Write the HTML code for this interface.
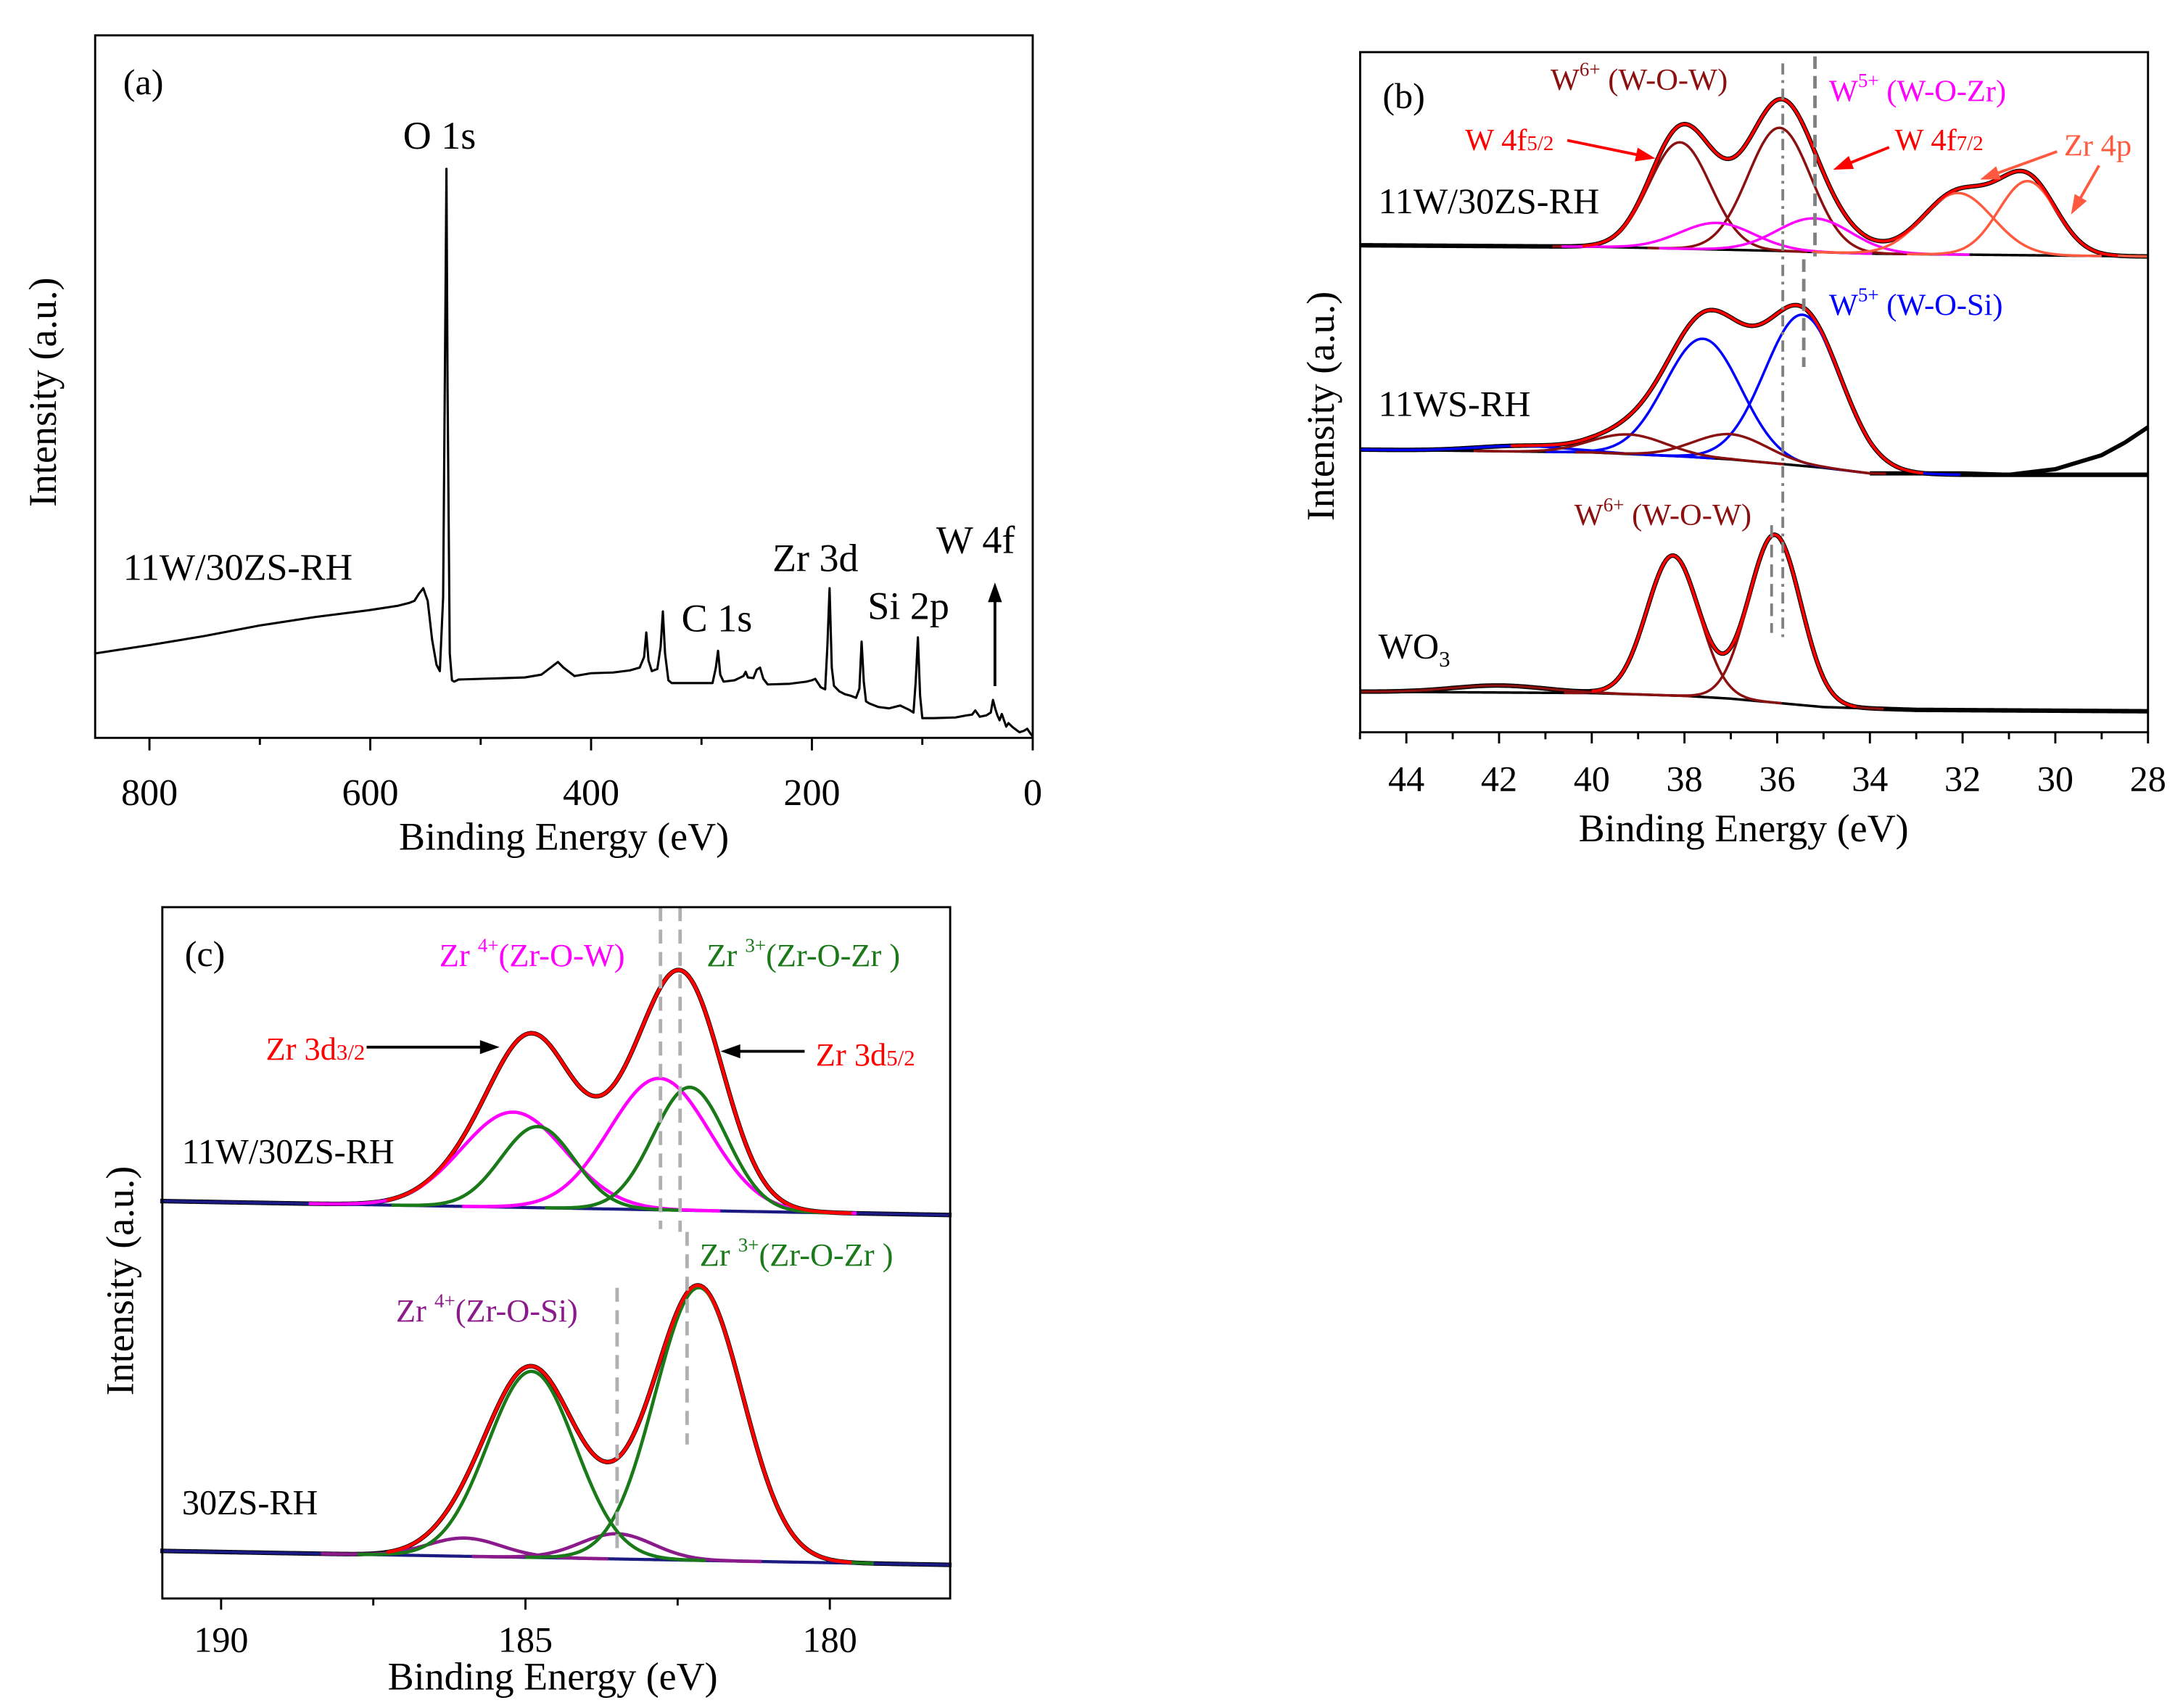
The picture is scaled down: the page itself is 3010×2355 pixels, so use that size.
<!DOCTYPE html>
<html><head><meta charset="utf-8">
<style>
html,body{margin:0;padding:0;background:#fff;}
svg{display:block;font-family:"Liberation Serif",serif;}
</style></head>
<body>
<svg id="fig" width="3010" height="2355" viewBox="0 0 1560 1220" xmlns="http://www.w3.org/2000/svg"></svg>
<script>
// ---------- Panel (a) survey data: [binding energy eV, intensity a.u.] ----------
const surveyE = [850,800,750,700,650,600,575,565,560,556,552,548,544,540,537,534,532,531,530,528,526,524,520,500,480,460,445,435,430,425,415,400,380,365,356,352,350,348,345,340,337,335,333,330,327,320,300,290,287,285,283,280,270,262,260,258,253,250,247,244,240,220,205,200,197,192,188,186,184,182,180,175,170,165,160,157,155,153,151,148,140,130,120,112,108,106,104,102,100,90,70,60,55,52,48,42,38,36,34,32,30,28,26,24,22,18,12,8,5,2,0];
const surveyI = [12,13.2,14.5,16,17.2,18.2,18.8,19.2,19.5,20.5,21.3,19.5,14,10.4,9.5,20,60,81,50,12,8.2,8,8.3,8.4,8.5,8.6,9,10.2,10.8,10,8.8,9.2,9.3,9.6,10,11.5,15,11,9.5,9.8,13,18,12,8.2,7.8,7.8,7.8,7.8,10,12.4,9,8,8.2,8.8,9.4,8.6,8.5,9.7,10,8.4,7.6,7.7,8,8.2,8.4,7.2,6.9,13,21.3,10,7.4,6.6,6.2,6,5.7,7,13.7,8,5.2,4.9,4.4,4.2,4.6,4,3.6,8,14.3,6,2.8,2.8,2.9,3.2,3.3,3.9,3,3.2,3.6,5.4,4.2,3.2,2.5,3.4,2.5,1.6,2.1,1.5,0.8,1,1.3,0.6,0.2];
const surveyTicks = [800,600,400,200,0];
const surveyMinor = [700,500,300,100];

// ---------- Panel (b) W 4f fits: peak centres (eV), heights, widths (sigma eV) ----------
const b1W6c=[38.1,35.95], b1W6h=[76,88], b1W6s=[0.66,0.68];
const b1W5c=[37.3,35.2],  b1W5h=[19,24],  b1W5s=[0.8,0.8];
const b1Zrc=[32.1,30.6],  b1Zrh=[44,53],  b1Zrs=[0.75,0.62];
const b1BgE=[45,40,36,34,28], b1BgY=[175,176,179,181,183];
const b2Bc=[41.5,37.6,35.45], b2Bh=[4,85,108], b2Bs=[1.0,0.82,0.82];
const b2Rc=[39.2,37.0], b2Rh=[14,18], b2Rs=[0.8,0.8];
const b2BgE=[45,40,38,37,35,34,32,28], b2BgY=[321,323,326,328,334,338,339,339];
const b2TailE=[34,32,31,30,29,28.5,28], b2TailY=[338,338,339,335,325,316,305];
const b3Rc=[42,38.25,36.05], b3Rh=[5,100,120], b3Rs=[1.0,0.56,0.56];
const b3BgE=[45,40,38,37,35,33,28], b3BgY=[494,495,497,499,505,507,508];
const bTicks=[44,42,40,38,36,34,32,30,28];

// ---------- Panel (c) Zr 3d fits ----------
const c1Mc=[185.2,182.8], c1Mh=[68,94], c1Ms=[0.85,0.82];
const c1Gc=[184.8,182.3], c1Gh=[58,88], c1Gs=[0.6,0.6];
const c1BgE=[191,178], c1BgY=[858,868];
const c2Gc=[184.9,182.15], c2Gh=[133,195], c2Gs=[0.72,0.72];
const c2Pc=[186.0,183.5], c2Ph=[13,18], c2Ps=[0.6,0.6];
const c2BgE=[191,178], c2BgY=[1108,1118];
const cTicks=[190,185,180];
const cMinor=[187.5,182.5];

const NS="http://www.w3.org/2000/svg";
const svg=document.getElementById('fig');
function mk(tag,attrs,parent){const e=document.createElementNS(NS,tag);for(const k in attrs)e.setAttribute(k,attrs[k]);(parent||svg).appendChild(e);return e;}
function txt(x,y,s,size,fill,anchor,name,parent){const t=mk('text',{x:x,y:y,'font-size':size,fill:fill||'#000','text-anchor':anchor||'start'},parent);t.innerHTML=s;


return t;}
function interp(xs,ys,v){
  if(v>=xs[0])return ys[0]; for(let i=1;i<xs.length;i++){if(v>=xs[i]){const t=(v-xs[i])/(xs[i-1]-xs[i]);return ys[i]+t*(ys[i-1]-ys[i]);}} return ys[ys.length-1];}
function gauss(c,h,s,v){return h*Math.exp(-((v-c)*(v-c))/(2*s*s));}
function pathFrom(pts){return pts.map((p,i)=>(i?'L':'M')+p[0].toFixed(2)+' '+p[1].toFixed(2)).join('');}
function line(d,stroke,w,name,dash,parent){const p=mk('path',{d:d,fill:'none',stroke:stroke,'stroke-width':w,'stroke-linejoin':'round'},parent);if(dash)p.setAttribute('stroke-dasharray',dash);


return p;}
function arrow(x1,y1,x2,y2,color,name,parent){
  const g=mk('g',{},parent);
  
  
  const a=Math.atan2(y2-y1,x2-x1),L=14,W=5;
  mk('line',{x1:x1,y1:y1,x2:x2-Math.cos(a)*L*0.8,y2:y2-Math.sin(a)*L*0.8,stroke:color,'stroke-width':2},g);
  const p1=[x2-Math.cos(a)*L+Math.sin(a)*W,y2-Math.sin(a)*L-Math.cos(a)*W],p2=[x2-Math.cos(a)*L-Math.sin(a)*W,y2-Math.sin(a)*L+Math.cos(a)*W];
  mk('polygon',{points:`${x2},${y2} ${p1[0]},${p1[1]} ${p2[0]},${p2[1]}`,fill:color},g);
}
function axesBox(x0,y0,x1,y1,name){const r=mk('rect',{x:x0,y:y0,width:x1-x0,height:y1-y0,fill:'none',stroke:'#000','stroke-width':1.5});

}

// ================= Panel (a) =================
const A={x0:68,x1:738,y0:25,y1:527};
const ax=v=>738-v*0.789; const ay=v=>527-v*5.02;
const gA=mk('g',{});  
axesBox(A.x0,A.y0,A.x1,A.y1,'panel-a-frame');
surveyTicks.forEach(t=>{mk('line',{x1:ax(t),y1:A.y1,x2:ax(t),y2:A.y1+9,stroke:'#000','stroke-width':1.5},gA);txt(ax(t),575,t,27,'#000','middle','x-tick-label-a',gA);});
surveyMinor.forEach(t=>{mk('line',{x1:ax(t),y1:A.y1,x2:ax(t),y2:A.y1+5,stroke:'#000','stroke-width':1.5},gA);});
line(pathFrom(surveyE.map((e,i)=>[ax(e),ay(surveyI[i])])),'#000',1.6,'survey-spectrum',null,gA);
txt(403,607,'Binding Energy (eV)',28,'#000','middle','x-axis-title-a',gA);
const ya=txt(0,0,'Intensity (a.u.)',28,'#000','middle','y-axis-title-a',gA); ya.setAttribute('transform','translate(40,280) rotate(-90)');
txt(88,67,'(a)',26,'#000','start','panel-label-a',gA);
txt(288,106,'O 1s',28,'#000','start','peak-label-o1s',gA);
txt(88,414,'11W/30ZS-RH',27,'#000','start','sample-label-a',gA);
txt(552,408,'Zr 3d',28,'#000','start','peak-label-zr3d',gA);
txt(487,451,'C 1s',28,'#000','start','peak-label-c1s',gA);
txt(620,442,'Si 2p',28,'#000','start','peak-label-si2p',gA);
txt(669,395,'W 4f',28,'#000','start','peak-label-w4f',gA);
arrow(711,490,711,416,'#000','w4f-arrow',gA);

// ================= Panel (b) =================
const B={x0:972,x1:1535,y0:37,y1:523};
const bx=v=>1535-(v-28)*33.125;
const gB=mk('g',{});  
axesBox(B.x0,B.y0,B.x1,B.y1,'panel-b-frame');
bTicks.forEach(t=>{mk('line',{x1:bx(t),y1:B.y1,x2:bx(t),y2:B.y1+8,stroke:'#000','stroke-width':1.5},gB);mk('line',{x1:bx(t+1),y1:B.y1,x2:bx(t+1),y2:B.y1+5,stroke:'#000','stroke-width':1.5},gB);txt(bx(t),565,t,26,'#000','middle','x-tick-label-b',gB);});
const eRangeB=[]; for(let e=45;e>=28;e-=0.05)eRangeB.push(+e.toFixed(2));
function comp(cs,hs,ss,bgE,bgY,i,e){return interp(bgE,bgY,e)-gauss(cs[i],hs[i],ss[i],e);}
function drawFit(sets,bgE,bgY,xf,eR,parent,lbl,dataTail){
  const env=eR.map(e=>{let y=interp(bgE,bgY,e);sets.forEach(s=>s.c.forEach((c,i)=>{y-=gauss(c,s.h[i],s.s[i],e);}));return [xf(e),y];});
  line(pathFrom(env),'#000',3.2,lbl+'-raw-data',null,parent);
  if(dataTail) line(pathFrom(dataTail[0].map((e,i)=>[xf(e),dataTail[1][i]])),'#000',3,lbl+'-raw-data-tail',null,parent);
  line(pathFrom(eR.map(e=>[xf(e),interp(bgE,bgY,e)])),'#000',1.8,lbl+'-background',null,parent);
  sets.forEach(s=>s.c.forEach((c,i)=>{
    const pts=eR.filter(e=>Math.abs(e-c)<4.2*s.s[i]).map(e=>[xf(e),comp(s.c,s.h,s.s,bgE,bgY,i,e)]);
    line(pathFrom(pts),s.col,1.8,lbl+'-component-'+s.n+'-'+i,null,parent);
  }));
  const envPts=env.filter((p,k)=>{const e=eR[k];return sets.some(s=>s.c.some((c,i)=>s.h[i]>8&&Math.abs(e-c)<3.2*s.s[i]));});
  line(pathFrom(envPts),'#ff0000',2,lbl+'-envelope',null,parent);
}
drawFit([{c:b1W6c,h:b1W6h,s:b1W6s,col:'#8b1010',n:'w6'},{c:b1W5c,h:b1W5h,s:b1W5s,col:'#ff00ff',n:'w5'},{c:b1Zrc,h:b1Zrh,s:b1Zrs,col:'#ff5a40',n:'zr4p'}],b1BgE,b1BgY,bx,eRangeB,gB,'b-11w30zs');
drawFit([{c:b2Bc,h:b2Bh,s:b2Bs,col:'#0000ff',n:'w5'},{c:b2Rc,h:b2Rh,s:b2Rs,col:'#8b1010',n:'w6'}],b2BgE,b2BgY,bx,eRangeB,gB,'b-11ws',[b2TailE,b2TailY]);
drawFit([{c:b3Rc,h:b3Rh,s:b3Rs,col:'#8b1010',n:'w6'}],b3BgE,b3BgY,bx,eRangeB,gB,'b-wo3');
line('M1274 45 L1274 455','#808080',2,'ref-line-w6','8 4 2 4',gB);
line('M1297 40 L1297 183','#808080',2.5,'ref-line-w5-zr','9 5',gB);
line('M1289 185 L1289 262','#808080',2.5,'ref-line-w5-si','9 5',gB);
line('M1266 375 L1266 452','#808080',2,'ref-line-wo3','9 5',gB);
txt(1246,601,'Binding Energy (eV)',28,'#000','middle','x-axis-title-b',gB);
const yb=txt(0,0,'Intensity (a.u.)',28,'#000','middle','y-axis-title-b',gB); yb.setAttribute('transform','translate(953,290) rotate(-90)');
txt(988,77,'(b)',26,'#000','start','panel-label-b',gB);
txt(1108,64,'W<tspan font-size="14" dy="-10">6+</tspan><tspan dy="10"> (W-O-W)</tspan>',22,'#8b1010','start','label-w6-wow-top',gB);
txt(1307,72,'W<tspan font-size="14" dy="-10">5+</tspan><tspan dy="10"> (W-O-Zr)</tspan>',22,'#ff00ff','start','label-w5-wozr',gB);
txt(1047,107,'W 4f<tspan font-size="15">5/2</tspan>',22,'#ff0000','start','label-w4f52',gB);
arrow(1120,100,1183,113,'#ff0000','arrow-w4f52',gB);
txt(1354,107,'W 4f<tspan font-size="15">7/2</tspan>',22,'#ff0000','start','label-w4f72',gB);
arrow(1350,105,1310,121,'#ff0000','arrow-w4f72',gB);
txt(1475,111,'Zr 4p',22,'#ff5a40','start','label-zr4p',gB);
arrow(1470,108,1415,128,'#ff5a40','arrow-zr4p-1',gB);
arrow(1500,118,1480,153,'#ff5a40','arrow-zr4p-2',gB);
txt(985,152,'11W/30ZS-RH',26,'#000','start','sample-label-b1',gB);
txt(1307,225,'W<tspan font-size="14" dy="-10">5+</tspan><tspan dy="10"> (W-O-Si)</tspan>',22,'#0000ff','start','label-w5-wosi',gB);
txt(985,297,'11WS-RH',26,'#000','start','sample-label-b2',gB);
txt(1125,375,'W<tspan font-size="14" dy="-10">6+</tspan><tspan dy="10"> (W-O-W)</tspan>',22,'#8b1010','start','label-w6-wow-wo3',gB);
txt(985,470,'WO<tspan font-size="16" dy="6">3</tspan>',26,'#000','start','sample-label-b3',gB);

// ================= Panel (c) =================
const C={x0:116,x1:679,y0:648,y1:1142};
const cx=v=>593-(v-180)*43.5;
const gC=mk('g',{});  
axesBox(C.x0,C.y0,C.x1,C.y1,'panel-c-frame');
cTicks.forEach(t=>{mk('line',{x1:cx(t),y1:C.y1,x2:cx(t),y2:C.y1+8,stroke:'#000','stroke-width':1.5},gC);txt(cx(t),1180,t,26,'#000','middle','x-tick-label-c',gC);});
cMinor.forEach(t=>{mk('line',{x1:cx(t),y1:C.y1,x2:cx(t),y2:C.y1+5,stroke:'#000','stroke-width':1.5},gC);});
const eRangeC=[]; for(let e=191;e>=178;e-=0.04)eRangeC.push(+e.toFixed(2));
function drawFitC(sets,bgE,bgY,parent,lbl){
  const env=eRangeC.map(e=>{let y=interp(bgE,bgY,e);sets.forEach(s=>s.c.forEach((c,i)=>{y-=gauss(c,s.h[i],s.s[i],e);}));return [cx(e),y];});
  line(pathFrom(env),'#000',3.2,lbl+'-raw-data',null,parent);
  line(pathFrom(eRangeC.map(e=>[cx(e),interp(bgE,bgY,e)])),'#1a1a80',2.2,lbl+'-background',null,parent);
  sets.forEach(s=>s.c.forEach((c,i)=>{
    const pts=eRangeC.filter(e=>Math.abs(e-c)<4*s.s[i]).map(e=>[cx(e),comp(s.c,s.h,s.s,bgE,bgY,i,e)]);
    line(pathFrom(pts),s.col,2.4,lbl+'-component-'+s.n+'-'+i,null,parent);
  }));
  const envPts=env.filter((p,k)=>{const e=eRangeC[k];return e<187.3&&e>179.6;});
  line(pathFrom(envPts),'#ff0000',2.4,lbl+'-envelope',null,parent);
}
drawFitC([{c:c1Mc,h:c1Mh,s:c1Ms,col:'#ff00ff',n:'zr4'},{c:c1Gc,h:c1Gh,s:c1Gs,col:'#1a7a1a',n:'zr3'}],c1BgE,c1BgY,gC,'c-11w30zs');
drawFitC([{c:c2Pc,h:c2Ph,s:c2Ps,col:'#8b1a8b',n:'zr4si'},{c:c2Gc,h:c2Gh,s:c2Gs,col:'#1a7a1a',n:'zr3'}],c2BgE,c2BgY,gC,'c-30zs');
line('M472 648 L472 878','#b0b0b0',2.5,'ref-line-c1','10 6',gC);
line('M486 648 L486 880','#b0b0b0',2.5,'ref-line-c2','10 6',gC);
line('M441 920 L441 1110','#b0b0b0',2.5,'ref-line-c3','10 6',gC);
line('M491 880 L491 1032','#b0b0b0',2.5,'ref-line-c4','10 6',gC);
txt(395,1207,'Binding Energy (eV)',28,'#000','middle','x-axis-title-c',gC);
const yc=txt(0,0,'Intensity (a.u.)',28,'#000','middle','y-axis-title-c',gC); yc.setAttribute('transform','translate(95,915) rotate(-90)');
txt(132,690,'(c)',26,'#000','start','panel-label-c',gC);
txt(314,690,'Zr <tspan font-size="14" dy="-10">4+</tspan><tspan dy="10">(Zr-O-W)</tspan>',23,'#ff00ff','start','label-zr4-zrow',gC);
txt(505,690,'Zr <tspan font-size="14" dy="-10">3+</tspan><tspan dy="10">(Zr-O-Zr )</tspan>',23,'#1a7a1a','start','label-zr3-top',gC);
txt(190,757,'Zr 3d<tspan font-size="16">3/2</tspan>',23,'#ff0000','start','label-zr3d32',gC);
arrow(262,748,357,748,'#000','arrow-zr3d32',gC);
txt(583,761,'Zr 3d<tspan font-size="16">5/2</tspan>',23,'#ff0000','start','label-zr3d52',gC);
arrow(575,751,515,751,'#000','arrow-zr3d52',gC);
txt(130,831,'11W/30ZS-RH',25,'#000','start','sample-label-c1',gC);
txt(500,904,'Zr <tspan font-size="14" dy="-10">3+</tspan><tspan dy="10">(Zr-O-Zr )</tspan>',23,'#1a7a1a','start','label-zr3-bottom',gC);
txt(283,944,'Zr <tspan font-size="14" dy="-10">4+</tspan><tspan dy="10">(Zr-O-Si)</tspan>',23,'#8b1a8b','start','label-zr4-zrosi',gC);
txt(130,1082,'30ZS-RH',25,'#000','start','sample-label-c2',gC);
</script>
</body></html>
